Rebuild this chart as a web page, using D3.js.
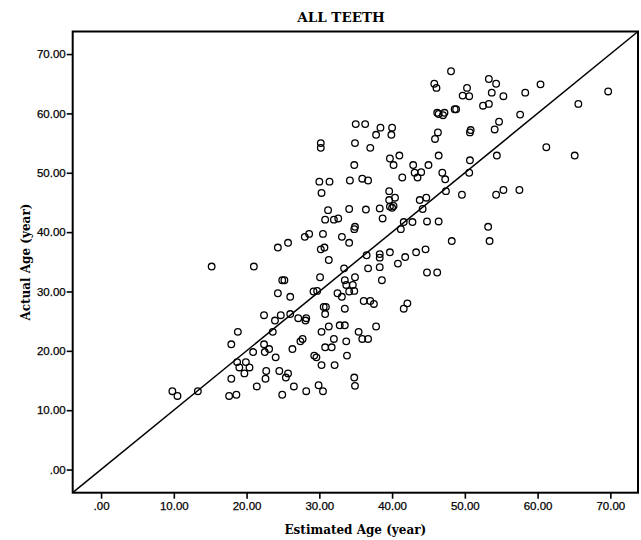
<!DOCTYPE html>
<html>
<head>
<meta charset="utf-8">
<script src="https://cdn.jsdelivr.net/npm/d3@7"></script>
<style>
    body { margin: 0; background: #ffffff; }
    #chart svg { display: block; }
</style>
</head>
<body>
<div id="chart"></div>
<script>
// Estimated vs actual age, one entry per tooth (same index in both arrays)
var estimatedAge = [
    35.0, 30.2, 30.2, 34.9, 34.8, 30.0, 31.4, 34.2, 30.3, 34.1, 31.2, 30.8, 32.0, 32.6, 34.9, 34.8,
    28.6, 28.0, 30.5, 33.1, 34.1, 24.3, 25.7, 30.2, 30.7, 31.3,
    15.2, 21.0, 24.9, 25.2, 30.1, 33.4, 34.9, 24.3, 26.0, 29.2, 29.7, 33.5, 33.7, 34.6, 34.1, 34.8,
    32.5, 33.1, 22.4, 23.9, 24.7, 26.0, 27.1, 28.2, 28.1, 30.6, 30.9, 30.8, 33.5, 18.8, 23.6, 30.3,
    31.3, 32.8, 33.5, 17.9, 22.4, 22.5, 23.1, 20.9, 27.4, 27.7, 26.3, 30.8, 31.7, 32.0, 33.7, 24.0,
    18.7, 19.9, 19.0, 20.4, 19.7, 29.3, 29.6, 30.3, 32.1, 33.8, 17.9, 22.7, 22.6, 24.5, 25.4, 25.7,
    21.4, 26.5, 29.9, 30.5, 28.2, 24.9, 17.6, 18.6, 9.8, 10.5, 13.3, 34.8, 34.9, 35.4,
    48.1, 45.8, 46.1, 53.3, 54.3, 50.3, 49.7, 50.6, 53.7, 55.3, 58.3, 60.4, 69.7, 65.6, 52.5, 53.3,
    57.6, 46.2, 46.4, 47.2, 47.0, 48.6, 48.8, 36.3, 38.4, 37.8, 40.0, 39.9, 37.0, 46.3, 45.9, 50.7,
    50.8, 54.1, 54.7, 61.2, 65.1, 54.4, 39.7, 41.0, 40.2, 42.9, 43.1, 44.0, 43.5, 45.0, 46.4, 41.4,
    35.9, 36.7, 46.9, 47.3, 50.7, 50.6, 47.4, 49.6, 54.3, 55.3, 57.5, 39.6, 40.4, 39.6, 39.7, 40.0,
    40.2, 43.8, 44.7, 44.2, 36.4, 38.3, 38.7, 41.6, 41.2, 42.8, 44.8, 46.4, 53.2, 53.4, 48.2, 36.5,
    38.3, 38.3, 39.7, 41.8, 43.3, 44.6,
    40.8, 38.3, 36.7, 44.8, 46.2, 38.6, 36.1, 37.0, 37.5, 42.1, 41.6, 37.8, 35.9, 36.7
];

var actualAge = [
    58.2, 55.0, 54.2, 55.0, 51.3, 48.5, 48.5, 48.7, 46.6, 43.9, 43.7, 42.1, 42.1, 42.3, 40.9, 40.5,
    39.7, 39.2, 39.7, 39.2, 38.2, 37.4, 38.2, 37.1, 37.4, 35.3,
    34.2, 34.2, 31.9, 31.9, 32.4, 33.9, 32.4, 29.7, 29.1, 30.0, 30.1, 31.9, 31.1, 31.1, 30.0, 30.1,
    29.7, 29.1, 26.0, 25.1, 26.0, 26.2, 25.5, 25.5, 25.1, 27.4, 27.4, 26.2, 27.1, 23.2, 23.2, 23.2,
    24.1, 24.3, 24.3, 21.1, 21.1, 19.8, 20.3, 19.8, 21.6, 22.0, 20.3, 20.6, 20.6, 22.0, 21.6, 18.9,
    18.1, 18.1, 17.2, 17.2, 16.2, 19.2, 18.9, 17.6, 17.6, 19.2, 15.3, 16.6, 15.3, 16.6, 15.5, 16.2,
    14.0, 14.0, 14.2, 13.2, 13.2, 12.6, 12.4, 12.6, 13.2, 12.4, 13.2, 15.5, 14.1, 23.2,
    67.1, 65.0, 64.3, 65.8, 65.0, 64.3, 63.0, 62.9, 63.5, 62.9, 63.5, 64.9, 63.7, 61.6, 61.3, 61.6,
    59.8, 60.1, 59.9, 60.1, 59.7, 60.7, 60.7, 58.2, 57.6, 56.4, 57.6, 56.4, 54.2, 56.8, 55.7, 56.8,
    57.2, 57.3, 58.6, 54.3, 52.9, 52.9, 52.4, 52.9, 51.3, 51.3, 50.0, 50.1, 49.2, 51.3, 52.9, 49.2,
    49.0, 48.7, 50.0, 48.9, 52.1, 50.0, 46.9, 46.3, 46.3, 47.1, 47.1, 46.9, 45.8, 45.4, 44.3, 44.1,
    44.4, 45.4, 45.8, 43.9, 43.8, 44.0, 42.3, 41.7, 40.5, 41.7, 41.8, 41.8, 40.9, 38.5, 38.5, 36.1,
    36.3, 35.7, 36.6, 35.8, 36.6, 37.1,
    34.7, 34.1, 33.9, 33.2, 33.2, 31.9, 28.4, 28.4, 27.9, 28.0, 27.1, 24.1, 22.0, 22.0
];

// Axis ticks and their SPSS style labels
var tickValues = [0, 10, 20, 30, 40, 50, 60, 70];
var tickLabels = [".00", "10.00", "20.00", "30.00", "40.00", "50.00", "60.00", "70.00"];

// Ends of the y = x reference line (same range on both axes)
var axisRange = [-3.9, 73.8];

var serifFont = "'DejaVu Serif', 'Liberation Serif', serif";

var main = function () {
    "use strict";

    var chart = initializeChart("chart");

    var points = estimatedAge.map(function (d, i) {
        return {x: d, y: actualAge[i]};
    });

    drawReferenceLine(chart);
    addScatterDataToChart(chart, points);
    drawFrame(chart);
};

function initializeChart(name) {
    var margin = {top: 31.5, right: 3, bottom: 47.3, left: 72.7},
        width = 641 - margin.left - margin.right,
        height = 540 - margin.top - margin.bottom;

    var root = d3.select("#" + name).append("svg")
        .attr("width", 641)
        .attr("height", 540);

    // Title
    root.append("text")
        .attr("x", 341)
        .attr("y", 21.5)
        .attr("text-anchor", "middle")
        .style("font-family", serifFont)
        .style("font-weight", "bold")
        .style("font-size", "13.5px")
        .text("ALL TEETH");

    var svg = root.append("g")
        .attr("transform", "translate(" + margin.left + "," + margin.top + ")");

    var x = d3.scaleLinear().domain(axisRange).range([0, width]);
    var y = d3.scaleLinear().domain(axisRange).range([height, 0]);

    // X axis
    var xAxis = svg.append("g")
        .attr("transform", "translate(0," + height + ")")
        .call(d3.axisBottom(x)
            .tickValues(tickValues)
            .tickFormat(function (d, i) { return tickLabels[i]; })
            .tickSizeInner(6)
            .tickSizeOuter(0)
            .tickPadding(3));

    // Y axis
    var yAxis = svg.append("g")
        .call(d3.axisLeft(y)
            .tickValues(tickValues)
            .tickFormat(function (d, i) { return tickLabels[i]; })
            .tickSizeInner(6)
            .tickSizeOuter(0)
            .tickPadding(1));

    [xAxis, yAxis].forEach(function (axis) {
        axis.select(".domain").remove();
        axis.selectAll(".tick line")
            .attr("stroke", "#000")
            .attr("stroke-width", 1.6);
        axis.selectAll(".tick text")
            .attr("fill", "#000")
            .attr("stroke", "#000")
            .attr("stroke-width", 0.25)
            .style("font-family", "'Liberation Sans', Arial, sans-serif")
            .style("font-size", "11.5px");
    });

    // Axis titles
    root.append("text")
        .attr("x", margin.left + width / 2)
        .attr("y", 534)
        .attr("text-anchor", "middle")
        .style("font-family", serifFont)
        .style("font-weight", "bold")
        .style("font-size", "12px")
        .text("Estimated Age (year)");

    root.append("text")
        .attr("transform", "translate(30," + (margin.top + height / 2) + ") rotate(-90)")
        .attr("text-anchor", "middle")
        .style("font-family", serifFont)
        .style("font-weight", "bold")
        .style("font-size", "12px")
        .text("Actual Age (year)");

    return {chart: svg, xAxis: x, yAxis: y, width: width, height: height};
}

function drawReferenceLine(chart) {
    var line = d3.line()
        .x(function (d) { return chart.xAxis(d); })
        .y(function (d) { return chart.yAxis(d); });

    chart.chart.append("path")
        .datum(axisRange)
        .attr("fill", "none")
        .attr("stroke", "#000")
        .attr("stroke-width", 1.5)
        .attr("d", line);
}

function addScatterDataToChart(chart, data) {
    chart.chart.append("g")
        .selectAll("circle")
        .data(data)
        .enter()
        .append("circle")
        .attr("cx", function (d) { return chart.xAxis(d.x); })
        .attr("cy", function (d) { return chart.yAxis(d.y); })
        .attr("r", 3.3)
        .attr("fill", "none")
        .attr("stroke", "#000")
        .attr("stroke-width", 1.3);
}

function drawFrame(chart) {
    chart.chart.append("rect")
        .attr("x", 0)
        .attr("y", 0)
        .attr("width", chart.width)
        .attr("height", chart.height)
        .attr("fill", "none")
        .attr("stroke", "#000")
        .attr("stroke-width", 2);
}

main();
</script>
</body>
</html>
